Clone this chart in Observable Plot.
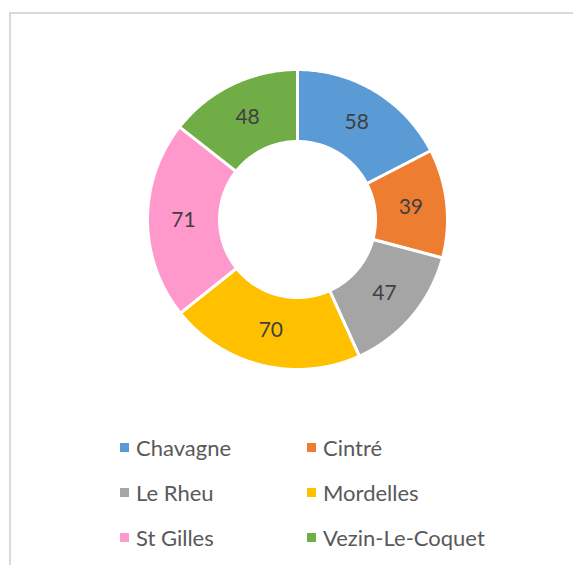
<!DOCTYPE html>
<html><head><meta charset="utf-8">
<script src="https://cdn.jsdelivr.net/npm/d3@7"></script>
<script src="https://cdn.jsdelivr.net/npm/@observablehq/plot@0.6"></script>
<style>
html,body{margin:0;padding:0;background:#fff;width:573px;height:565px;overflow:hidden;}
#frame{position:absolute;left:9px;top:12px;width:640px;height:640px;border:2px solid #d9d9d9;box-sizing:border-box;}
#chart{position:absolute;left:0;top:0;}
#legend{position:absolute;left:120px;top:425px;width:380px;}
.lg-swatches{font-family:Lato,"Open Sans",sans-serif;font-size:22px;color:#595959;margin:0;display:flex;flex-wrap:wrap;}
.lg-swatch{width:187px;height:45px;margin:0;display:inline-flex;align-items:center;}
.lg-swatch > svg{margin-right:7px;}
</style>
</head><body>
<div id="frame"></div>
<div id="chart"></div>
<div id="legend"></div>
<script>
const categories = ["Chavagne","Cintré","Le Rheu","Mordelles","St Gilles","Vezin-Le-Coquet"];
const values = [58,39,47,70,71,48];
const colors = ["#5B9BD5","#ED7D31","#A5A5A5","#FFC000","#FF99CC","#70AD47"];

const data = categories.map((name,i)=>({name, value: values[i]}));
const inner = 0.52, outer = 1;
const arcs = d3.pie().sort(null).value(d=>d.value)(data);

const poly = [];
const labels = [];
for (const a of arcs) {
  const n = 80;
  for (let k=0;k<=n;k++){ const t=a.startAngle+(a.endAngle-a.startAngle)*k/n; poly.push({name:a.data.name,x:outer*Math.sin(t),y:outer*Math.cos(t)}); }
  for (let k=n;k>=0;k--){ const t=a.startAngle+(a.endAngle-a.startAngle)*k/n; poly.push({name:a.data.name,x:inner*Math.sin(t),y:inner*Math.cos(t)}); }
  const m=(a.startAngle+a.endAngle)/2, r=(inner+outer)/2;
  labels.push({name:a.data.name,value:a.data.value,x:r*Math.sin(m),y:r*Math.cos(m)});
}

const chart = Plot.plot({
  width: 573, height: 400,
  marginLeft: 147, marginRight: 126, marginTop: 69, marginBottom: 31,
  x: {domain: [-1,1], axis: null},
  y: {domain: [-1,1], axis: null},
  color: {domain: categories, range: colors},
  style: {background: "transparent", overflow: "visible"},
  marks: [
    Plot.line(poly, {x:"x", y:"y", z:"name", fill:"name", stroke:"white", strokeWidth:3, curve:"linear-closed"}),
    Plot.text(labels, {x:"x", y:"y", text: d=>String(d.value), fill:"#404040", fontSize:21, fontFamily:"Lato, 'Open Sans', sans-serif"})
  ]
});
document.getElementById("chart").append(chart);
const leg = chart.legend("color", {className:"lg", swatchSize:9});
document.getElementById("legend").append(leg);
</script>
</body></html>
